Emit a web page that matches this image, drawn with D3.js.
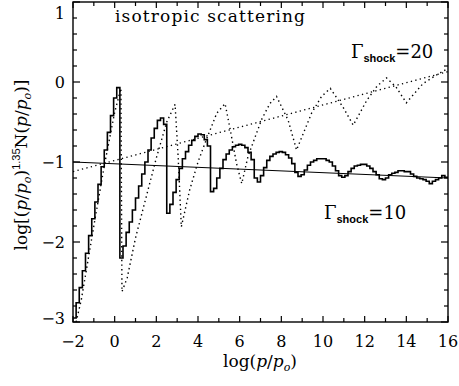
<!DOCTYPE html>
<html>
<head>
<meta charset="utf-8">
<script src="https://cdn.jsdelivr.net/npm/d3@7"></script>
<style>
  body { margin: 0; background: #fff; }
  text { fill: #000; }
</style>
</head>
<body>
<svg id="chart" width="459" height="386"></svg>
<script>
// histogram bins for the Gamma_shock = 10 run (log p/p0, bin width 0.15)
const binStart = -2;
const binWidth = 0.15;
const gamma10 = [
  -2.95, -2.76, -2.57, -2.36, -2.14, -1.92, -1.71, -1.5, -1.28, -1.06, -0.85, -0.63, -0.42, -0.2, -0.07,
  -2.2, -2.05, -1.88, -1.75, -1.6, -1.45, -1.3, -1.15, -1.0, -0.85, -0.7, -0.58, -0.48, -0.45, -0.53, -1.64,
  -1.53, -1.38, -1.22, -1.08, -0.96, -0.87, -0.79, -0.73, -0.68, -0.65, -0.66, -0.72, -0.8, -1.37,
  -1.33, -1.2, -1.08, -0.97, -0.9, -0.85, -0.81, -0.79, -0.78, -0.79, -0.82, -0.88, -0.97, -1.2, -1.25,
  -1.17, -1.07, -0.98, -0.93, -0.9, -0.88, -0.87, -0.88, -0.91, -0.95, -1.02, -1.13, -1.18,
  -1.16, -1.1, -1.04, -1.0, -0.98, -0.96, -0.96, -0.96, -0.98, -1.0, -1.05, -1.11, -1.17, -1.19,
  -1.17, -1.12, -1.08, -1.05, -1.04, -1.03, -1.03, -1.05, -1.08, -1.12, -1.16, -1.21, -1.22,
  -1.2, -1.16, -1.14, -1.13, -1.11, -1.11, -1.12, -1.12, -1.15, -1.18, -1.2, -1.21, -1.22, -1.24, -1.27, -1.24, -1.22, -1.2, -1.17, -1.19
];

// Gamma_shock = 20 run (dotted)
const gamma20X = [-1.85, -1.6, -1.0, -0.5, 0.0, 0.3, 0.35, 0.6, 1.0, 1.5, 2.0, 2.5, 2.9, 3.05, 3.2, 3.6, 4.0, 4.4, 4.9, 5.3,
  5.55, 5.85, 6.1, 6.4, 7.05, 7.45, 7.77, 8.33, 8.73, 9.45, 9.93, 10.35, 10.95, 11.45, 12.1, 12.6, 13.05, 13.5, 14.0, 14.8, 15.4, 16.0];
const gamma20Y = [-3.0, -2.72, -1.8, -1.05, -0.38, -0.08, -2.62, -2.45, -1.95, -1.45, -0.95, -0.5, -0.28, -0.95, -1.81, -1.35, -1.0, -0.72, -0.39, -0.27,
  -0.6, -1.02, -1.27, -0.93, -0.47, -0.27, -0.18, -0.48, -0.85, -0.39, -0.18, -0.08, -0.31, -0.54, -0.23, -0.05, 0.05, -0.06, -0.26, -0.02, 0.08, 0.17];

// straight-line fits
const fitX = [-2, 16];
const fit10Y = [-1.0, -1.2];
const fit20Y = [-1.12, 0.13];

const xTicks = [-2, 0, 2, 4, 6, 8, 10, 12, 14, 16];
const yTicks = [-3, -2, -1, 0, 1];

const svg = d3.select('#chart');
const plotL = 73, plotR = 448, plotT = 2, plotB = 322;

const x = d3.scaleLinear().domain([-2, 16]).range([plotL, plotR]);
const y = d3.scaleLinear().domain([-3, 1]).range([plotB, plotT]);

svg.append('clipPath').attr('id', 'plot')
  .append('rect').attr('x', plotL).attr('y', plotT).attr('width', plotR - plotL).attr('height', plotB - plotT);

const g = svg.append('g').attr('clip-path', 'url(#plot)');

const line = d3.line().x(d => x(d[0])).y(d => y(d[1]));

// fit lines
g.append('path')
  .datum(fitX.map((v, i) => [v, fit10Y[i]]))
  .attr('d', line).attr('fill', 'none').attr('stroke', '#000').attr('stroke-width', 1.1);

g.append('path')
  .datum(fitX.map((v, i) => [v, fit20Y[i]]))
  .attr('d', line).attr('fill', 'none').attr('stroke', '#000').attr('stroke-width', 1.3)
  .attr('stroke-dasharray', '1.3,3.3');

// gamma 20 dotted
g.append('path')
  .datum(gamma20X.map((v, i) => [v, gamma20Y[i]]))
  .attr('d', line).attr('fill', 'none').attr('stroke', '#000').attr('stroke-width', 1.4)
  .attr('stroke-dasharray', '1.4,3.2');

// gamma 10 histogram
const histPts = gamma10.map((v, i) => [binStart + i * binWidth, v]);
histPts.push([16, gamma10[gamma10.length - 1]]);
g.append('path')
  .datum(histPts)
  .attr('d', d3.line().x(d => x(d[0])).y(d => y(d[1])).curve(d3.curveStepAfter))
  .attr('fill', 'none').attr('stroke', '#000').attr('stroke-width', 1.6);

// frame
svg.append('rect')
  .attr('x', plotL).attr('y', plotT).attr('width', plotR - plotL).attr('height', plotB - plotT)
  .attr('fill', 'none').attr('stroke', '#000').attr('stroke-width', 1.4);

// ticks on all four sides
const ticks = svg.append('g').attr('stroke', '#000').attr('stroke-width', 1.2);
d3.range(-2, 16.01, 1).forEach(v => {
  const len = (Math.round(v) % 2 === 0) ? 6 : 4;
  ticks.append('line').attr('x1', x(v)).attr('x2', x(v)).attr('y1', plotB).attr('y2', plotB - len);
  ticks.append('line').attr('x1', x(v)).attr('x2', x(v)).attr('y1', plotT).attr('y2', plotT + len);
});
d3.range(-3, 1.001, 0.2).forEach(v => {
  const len = Math.abs(v - Math.round(v)) < 1e-6 ? 7 : 4;
  ticks.append('line').attr('x1', plotL).attr('x2', plotL + len).attr('y1', y(v)).attr('y2', y(v));
  ticks.append('line').attr('x1', plotR).attr('x2', plotR - len).attr('y1', y(v)).attr('y2', y(v));
});

const serif = '"DejaVu Serif", serif';

svg.append('g').selectAll('text').data(xTicks).join('text')
  .attr('x', d => x(d)).attr('y', 347)
  .attr('text-anchor', 'middle')
  .style('font-family', serif).style('font-size', '16px')
  .text(d => d < 0 ? '\u2212' + Math.abs(d) : d);

svg.append('g').selectAll('text').data(yTicks).join('text')
  .attr('x', 65)
  .attr('y', d => Math.min(Math.max(y(d), 13), 318) + 6)
  .attr('text-anchor', 'end')
  .style('font-family', serif).style('font-size', '16px')
  .text(d => d < 0 ? '\u2212' + Math.abs(d) : d);

// x axis title
const xt = svg.append('text').attr('x', 260).attr('y', 367).attr('text-anchor', 'middle')
  .style('font-family', serif).style('font-size', '17px');
xt.append('tspan').text('log(');
xt.append('tspan').style('font-style', 'italic').text('p');
xt.append('tspan').text('/');
xt.append('tspan').style('font-style', 'italic').text('p');
xt.append('tspan').style('font-style', 'italic').style('font-size', '11px').attr('dy', 4).text('o');
xt.append('tspan').attr('dy', -4).text(')');

// y axis title
const yt = svg.append('text').attr('transform', 'translate(27,165) rotate(-90)').attr('text-anchor', 'middle')
  .style('font-family', serif).style('font-size', '17px');
yt.append('tspan').text('log[(');
yt.append('tspan').style('font-style', 'italic').text('p');
yt.append('tspan').text('/');
yt.append('tspan').style('font-style', 'italic').text('p');
yt.append('tspan').style('font-style', 'italic').style('font-size', '11px').attr('dy', 4).text('o');
yt.append('tspan').attr('dy', -4).text(')');
yt.append('tspan').style('font-family', '"Liberation Sans", sans-serif').style('font-size', '11px').attr('dy', -7).text('1.35');
yt.append('tspan').attr('dy', 7).text('N(');
yt.append('tspan').style('font-style', 'italic').text('p');
yt.append('tspan').text('/');
yt.append('tspan').style('font-style', 'italic').text('p');
yt.append('tspan').style('font-style', 'italic').style('font-size', '11px').attr('dy', 4).text('o');
yt.append('tspan').attr('dy', -4).text(')]');

// annotations
svg.append('text').attr('x', 115).attr('y', 22)
  .attr('textLength', 190).attr('lengthAdjust', 'spacing')
  .style('font-family', serif).style('font-size', '17px')
  .text('isotropic scattering');

function gammaLabel(xPos, yPos, val) {
  const t = svg.append('text').attr('x', xPos).attr('y', yPos)
    .style('font-family', serif).style('font-size', '18px');
  t.append('tspan').text('\u0393');
  t.append('tspan').style('font-family', '"Liberation Sans", sans-serif').style('font-weight', 'bold')
    .style('font-size', '11px').attr('dy', 4).text('shock');
  t.append('tspan').attr('dy', -4).text('=' + val);
}
gammaLabel(351, 58, 20);
gammaLabel(324, 219, 10);
</script>
</body>
</html>
